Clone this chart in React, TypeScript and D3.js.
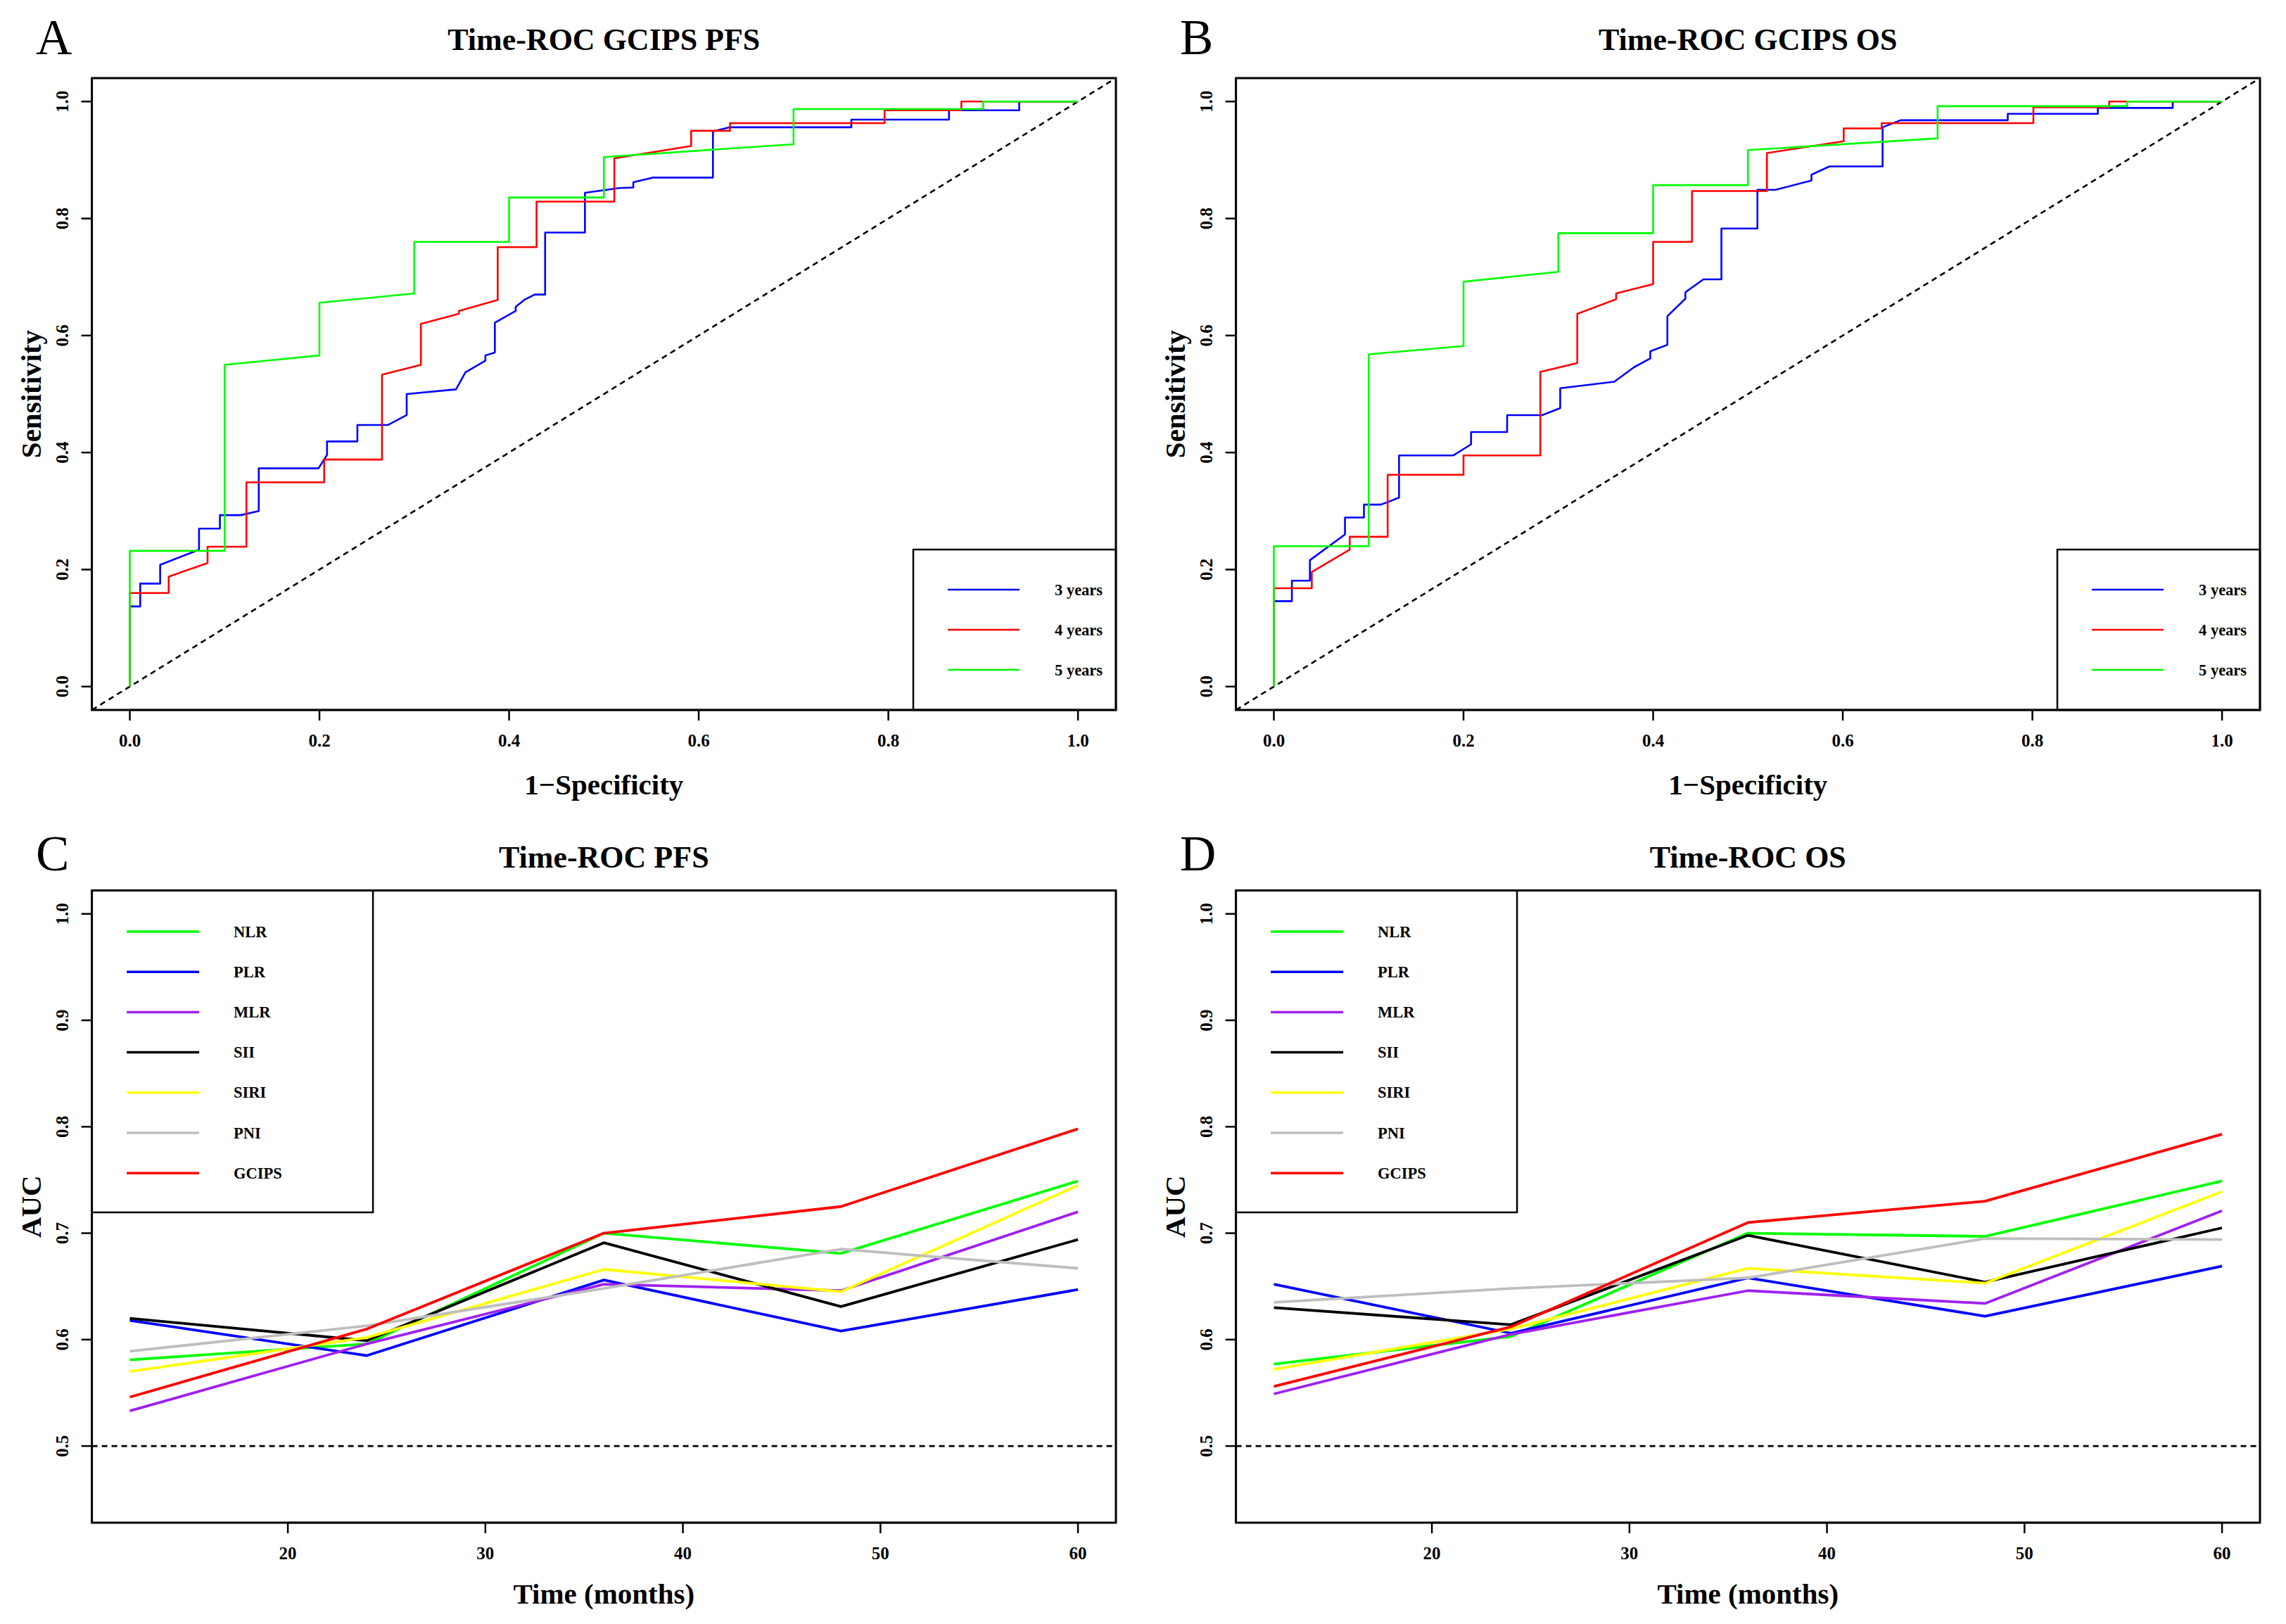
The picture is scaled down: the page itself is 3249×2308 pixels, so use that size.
import * as d3 from "d3";

type Pt = [number, number];

// ---- ROC panels (A, B) ----
const rocTicks = [0, 0.2, 0.4, 0.6, 0.8, 1.0];
const rocYears = ["3 years", "4 years", "5 years"];
const rocColors = ["#0000FF", "#FF0000", "#00FF00"];

const pfs3y: Pt[] = [
  [0, 0], [0, 0.137], [0.011, 0.137], [0.011, 0.176], [0.032, 0.176], [0.032, 0.208],
  [0.073, 0.234], [0.073, 0.27], [0.095, 0.27], [0.095, 0.293], [0.117, 0.293], [0.136, 0.3],
  [0.136, 0.373], [0.199, 0.373], [0.208, 0.396], [0.208, 0.419], [0.24, 0.419], [0.24, 0.447],
  [0.272, 0.447], [0.292, 0.464], [0.292, 0.5], [0.344, 0.508], [0.354, 0.537], [0.375, 0.557],
  [0.375, 0.566], [0.385, 0.571], [0.385, 0.622], [0.407, 0.642], [0.407, 0.649], [0.416, 0.661],
  [0.427, 0.67], [0.438, 0.67], [0.438, 0.776], [0.48, 0.776], [0.48, 0.844], [0.516, 0.852],
  [0.531, 0.853], [0.531, 0.862], [0.552, 0.87], [0.615, 0.87], [0.615, 0.949], [0.633, 0.956],
  [0.761, 0.956], [0.761, 0.969], [0.864, 0.969], [0.864, 0.985], [0.938, 0.985], [0.938, 1], [1, 1],
];
const pfs4y: Pt[] = [
  [0, 0], [0, 0.16], [0.041, 0.16], [0.041, 0.188], [0.082, 0.211], [0.082, 0.239], [0.123, 0.239],
  [0.123, 0.349], [0.205, 0.349], [0.205, 0.388], [0.266, 0.388], [0.266, 0.533], [0.307, 0.55],
  [0.307, 0.62], [0.347, 0.637], [0.347, 0.642], [0.388, 0.661], [0.388, 0.751], [0.429, 0.751],
  [0.429, 0.829], [0.511, 0.829], [0.511, 0.903], [0.592, 0.924], [0.592, 0.95], [0.633, 0.95],
  [0.633, 0.963], [0.796, 0.963], [0.796, 0.985], [0.877, 0.985], [0.877, 1], [1, 1],
];
const pfs5y: Pt[] = [
  [0, 0], [0, 0.232], [0.1, 0.232], [0.1, 0.55], [0.2, 0.566], [0.2, 0.656], [0.3, 0.672],
  [0.3, 0.76], [0.4, 0.76], [0.4, 0.836], [0.5, 0.836], [0.5, 0.905], [0.7, 0.927], [0.7, 0.987],
  [0.9, 0.987], [0.9, 1], [1, 1],
];

const os3y: Pt[] = [
  [0, 0], [0, 0.146], [0.019, 0.146], [0.019, 0.181], [0.038, 0.181], [0.038, 0.216], [0.075, 0.26],
  [0.075, 0.289], [0.095, 0.289], [0.095, 0.311], [0.113, 0.311], [0.132, 0.323], [0.132, 0.395],
  [0.189, 0.395], [0.208, 0.414], [0.208, 0.435], [0.246, 0.435], [0.246, 0.464], [0.283, 0.464],
  [0.302, 0.476], [0.302, 0.51], [0.359, 0.521], [0.38, 0.546], [0.397, 0.561], [0.397, 0.573],
  [0.415, 0.584], [0.415, 0.633], [0.434, 0.663], [0.434, 0.674], [0.453, 0.696], [0.472, 0.696],
  [0.472, 0.783], [0.51, 0.783], [0.51, 0.849], [0.529, 0.849], [0.567, 0.865], [0.567, 0.875],
  [0.586, 0.889], [0.642, 0.889], [0.642, 0.956], [0.661, 0.968], [0.774, 0.968], [0.774, 0.979],
  [0.869, 0.979], [0.869, 0.989], [0.948, 0.989], [0.948, 1], [1, 1],
];
const os4y: Pt[] = [
  [0, 0], [0, 0.168], [0.04, 0.168], [0.04, 0.196], [0.08, 0.234], [0.08, 0.256], [0.12, 0.256],
  [0.12, 0.362], [0.2, 0.362], [0.2, 0.395], [0.281, 0.395], [0.281, 0.538], [0.32, 0.553],
  [0.32, 0.637], [0.361, 0.662], [0.361, 0.672], [0.4, 0.688], [0.4, 0.76], [0.441, 0.76],
  [0.441, 0.847], [0.52, 0.847], [0.52, 0.912], [0.601, 0.932], [0.601, 0.954], [0.641, 0.954],
  [0.641, 0.963], [0.801, 0.963], [0.801, 0.99], [0.881, 0.99], [0.881, 1], [1, 1],
];
const os5y: Pt[] = [
  [0, 0], [0, 0.24], [0.1, 0.24], [0.1, 0.568], [0.2, 0.582], [0.2, 0.692], [0.3, 0.709],
  [0.3, 0.775], [0.4, 0.775], [0.4, 0.857], [0.5, 0.857], [0.5, 0.917], [0.7, 0.937], [0.7, 0.992],
  [0.9, 0.992], [0.9, 1], [1, 1],
];

// ---- AUC panels (C, D) ----
const aucTimes = [12, 24, 36, 48, 60];
const aucXTicks = [20, 30, 40, 50, 60];
const aucYTicks = [0.5, 0.6, 0.7, 0.8, 0.9, 1.0];
const markers = ["NLR", "PLR", "MLR", "SII", "SIRI", "PNI", "GCIPS"];
const markerColors = ["#00FF00", "#0000FF", "#A020F0", "#000000", "#FFFF00", "#BEBEBE", "#FF0000"];

const pfsNLR = [0.581, 0.596, 0.7, 0.681, 0.749];
const pfsPLR = [0.618, 0.585, 0.656, 0.608, 0.647];
const pfsMLR = [0.533, 0.596, 0.652, 0.646, 0.72];
const pfsSII = [0.62, 0.599, 0.691, 0.631, 0.694];
const pfsSIRI = [0.57, 0.602, 0.666, 0.645, 0.745];
const pfsPNI = [0.589, 0.613, 0.648, 0.685, 0.667];
const pfsGCIPS = [0.546, 0.61, 0.7, 0.725, 0.798];

const osNLR = [0.577, 0.603, 0.7, 0.697, 0.749];
const osPLR = [0.652, 0.606, 0.658, 0.622, 0.669];
const osMLR = [0.549, 0.605, 0.646, 0.634, 0.721];
const osSII = [0.63, 0.614, 0.698, 0.654, 0.705];
const osSIRI = [0.572, 0.61, 0.667, 0.653, 0.739];
const osPNI = [0.635, 0.648, 0.658, 0.695, 0.694];
const osGCIPS = [0.556, 0.612, 0.71, 0.73, 0.793];

// ---- layout ----
const W = 3249;
const H = 2308;
const FONT = "'Liberation Serif', 'Times New Roman', serif";
const plotL = 130.6;
const plotR = 1586;
const colDX = 1626;
const rocTop = 111;
const rocBottom = 1009;
const aucTop = 1265.5;
const aucBottom = 2164;
const tickLen = 15;
const tickFs = 25;
const labFs = 41;
const mainFs = 44;
const letterFs = 71;
const legFs = 22.5;

function Frame({ l, r, t, b }: { l: number; r: number; t: number; b: number }) {
  return <rect x={l} y={t} width={r - l} height={b - t} fill="none" stroke="#000" strokeWidth={3} />;
}

function Axes({
  x, y, xt, yt, fmtX, fmtY, l, b,
}: {
  x: d3.ScaleLinear<number, number>; y: d3.ScaleLinear<number, number>;
  xt: number[]; yt: number[]; fmtX: (v: number) => string; fmtY: (v: number) => string;
  l: number; b: number;
}) {
  return (
    <g fontFamily={FONT} fontWeight="bold" fontSize={tickFs} fill="#000">
      <line x1={x(xt[0])} x2={x(xt[xt.length - 1])} y1={b} y2={b} stroke="#000" strokeWidth={2.5} />
      {xt.map((v) => (
        <g key={"x" + v}>
          <line x1={x(v)} x2={x(v)} y1={b} y2={b + tickLen} stroke="#000" strokeWidth={2.5} />
          <text x={x(v)} y={b + 43} textAnchor="middle" dominantBaseline="central">{fmtX(v)}</text>
        </g>
      ))}
      <line x1={l} x2={l} y1={y(yt[0])} y2={y(yt[yt.length - 1])} stroke="#000" strokeWidth={2.5} />
      {yt.map((v) => (
        <g key={"y" + v}>
          <line x1={l - tickLen} x2={l} y1={y(v)} y2={y(v)} stroke="#000" strokeWidth={2.5} />
          <text
            transform={`translate(${l - 42},${y(v)}) rotate(-90)`}
            textAnchor="middle"
            dominantBaseline="central"
          >
            {fmtY(v)}
          </text>
        </g>
      ))}
    </g>
  );
}

function Titles({
  cx, cy, top, bottom, letter, main, xlab, ylab, xlabOff, letterY, mainY, dx,
}: {
  cx: number; cy: number; top: number; bottom: number; letter: string; main: string;
  xlab: string; ylab: string; xlabOff: number; letterY: number; mainY: number; dx: number;
}) {
  return (
    <g fontFamily={FONT} fill="#000">
      <text x={51 + dx} y={letterY} fontSize={letterFs}>{letter}</text>
      <text x={cx} y={mainY} fontSize={mainFs} fontWeight="bold" textAnchor="middle">{main}</text>
      <text x={cx} y={bottom + xlabOff} fontSize={labFs} fontWeight="bold" textAnchor="middle" dominantBaseline="central">
        {xlab}
      </text>
      <text
        transform={`translate(${44 + dx},${cy}) rotate(-90)`}
        fontSize={labFs}
        fontWeight="bold"
        textAnchor="middle"
        dominantBaseline="central"
      >
        {ylab}
      </text>
    </g>
  );
}

function RocPanel({ dx, letter, title, curves }: { dx: number; letter: string; title: string; curves: Pt[][] }) {
  const l = plotL + dx;
  const r = plotR + dx;
  const x = d3.scaleLinear().domain([-0.04, 1.04]).range([l, r]);
  const y = d3.scaleLinear().domain([-0.04, 1.04]).range([rocBottom, rocTop]);
  const line = d3.line<Pt>().x((d) => x(d[0])).y((d) => y(d[1]));
  const fmt = d3.format(".1f");
  const [d0, d1] = x.domain();
  const legL = l + 1167.4;
  const legT = 781;
  return (
    <g>
      <path d={line([[d0, d0], [d1, d1]]) || ""} stroke="#000" strokeWidth={2.6} strokeDasharray="8 6" fill="none" />
      {curves.map((c, i) => (
        <path key={i} d={line(c) || ""} stroke={rocColors[i]} strokeWidth={2.6} fill="none" strokeLinejoin="round" />
      ))}
      <rect x={legL} y={legT} width={r - legL} height={rocBottom - legT} fill="#fff" stroke="#000" strokeWidth={2.5} />
      {rocYears.map((lab, i) => (
        <g key={lab}>
          <line x1={legL + 49} x2={legL + 151} y1={legT + 57 + i * 57} y2={legT + 57 + i * 57} stroke={rocColors[i]} strokeWidth={2.6} />
          <text x={legL + 201} y={legT + 57 + i * 57} fontFamily={FONT} fontWeight="bold" fontSize={legFs} dominantBaseline="central">
            {lab}
          </text>
        </g>
      ))}
      <Frame l={l} r={r} t={rocTop} b={rocBottom} />
      <Axes x={x} y={y} xt={rocTicks} yt={rocTicks} fmtX={fmt} fmtY={fmt} l={l} b={rocBottom} />
      <Titles
        cx={(l + r) / 2} cy={(rocTop + rocBottom) / 2} top={rocTop} bottom={rocBottom}
        letter={letter} main={title} xlab="1−Specificity" ylab="Sensitivity"
        xlabOff={106} letterY={77} mainY={71} dx={dx}
      />
    </g>
  );
}

function AucPanel({ dx, letter, title, series }: { dx: number; letter: string; title: string; series: number[][] }) {
  const l = plotL + dx;
  const r = plotR + dx;
  const x = d3.scaleLinear().domain([10.08, 61.92]).range([l, r]);
  const y = d3.scaleLinear().domain([0.428, 1.022]).range([aucBottom, aucTop]);
  const line = d3.line<number>().x((_, i) => x(aucTimes[i])).y((d) => y(d));
  const [d0, d1] = x.domain();
  const legR = l + 399.5;
  const legB = 1723;
  return (
    <g>
      <line x1={x(d0)} x2={x(d1)} y1={y(0.5)} y2={y(0.5)} stroke="#000" strokeWidth={2.6} strokeDasharray="8 6" />
      {series.map((s, i) => (
        <path key={i} d={line(s) || ""} stroke={markerColors[i]} strokeWidth={3.8} fill="none" strokeLinejoin="round" />
      ))}
      <rect x={l} y={aucTop} width={legR - l} height={legB - aucTop} fill="#fff" stroke="#000" strokeWidth={2.5} />
      {markers.map((m, i) => (
        <g key={m}>
          <line x1={l + 49.5} x2={l + 152.5} y1={aucTop + 58.5 + i * 57.2} y2={aucTop + 58.5 + i * 57.2} stroke={markerColors[i]} strokeWidth={3.5} />
          <text x={l + 201.5} y={aucTop + 58.5 + i * 57.2} fontFamily={FONT} fontWeight="bold" fontSize={legFs} dominantBaseline="central">
            {m}
          </text>
        </g>
      ))}
      <Frame l={l} r={r} t={aucTop} b={aucBottom} />
      <Axes x={x} y={y} xt={aucXTicks} yt={aucYTicks} fmtX={d3.format("d")} fmtY={d3.format(".1f")} l={l} b={aucBottom} />
      <Titles
        cx={(l + r) / 2} cy={(aucTop + aucBottom) / 2} top={aucTop} bottom={aucBottom}
        letter={letter} main={title} xlab="Time (months)" ylab="AUC"
        xlabOff={101} letterY={1237} mainY={1233} dx={dx}
      />
    </g>
  );
}

export default function App() {
  return (
    <svg
      width={W}
      height={H}
      viewBox={`0 0 ${W} ${H}`}
      style={{ position: "absolute", left: 0, top: 0, background: "#fff" }}
    >
      <rect width={W} height={H} fill="#fff" />
      <RocPanel dx={0} letter="A" title="Time-ROC GCIPS PFS" curves={[pfs3y, pfs4y, pfs5y]} />
      <RocPanel dx={colDX} letter="B" title="Time-ROC GCIPS OS" curves={[os3y, os4y, os5y]} />
      <AucPanel
        dx={0}
        letter="C"
        title="Time-ROC PFS"
        series={[pfsNLR, pfsPLR, pfsMLR, pfsSII, pfsSIRI, pfsPNI, pfsGCIPS]}
      />
      <AucPanel
        dx={colDX}
        letter="D"
        title="Time-ROC OS"
        series={[osNLR, osPLR, osMLR, osSII, osSIRI, osPNI, osGCIPS]}
      />
    </svg>
  );
}
